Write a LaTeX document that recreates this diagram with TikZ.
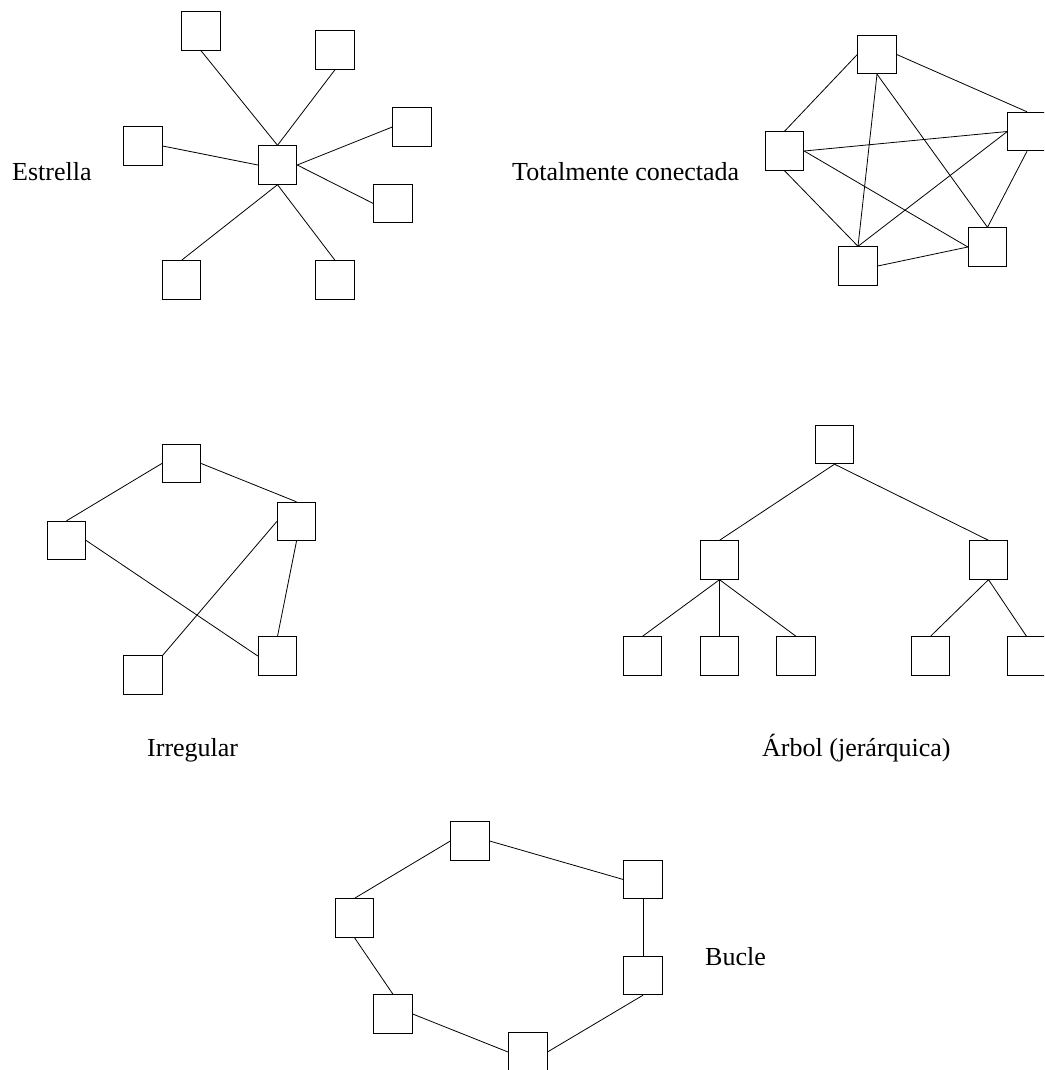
\documentclass[tikz,border=0pt]{standalone}
\usepackage{fontspec}
\setmainfont{Liberation Serif}
\begin{document}
\begin{tikzpicture}[x=1pt,y=-1pt,
  station/.style={draw, line width=0.9pt, minimum size=38.5pt, inner sep=0pt, fill=white},
  link/.style={line width=0.8pt},
  caption/.style={anchor=base west, inner sep=0pt, font=\fontsize{26}{30}\selectfont}]
\useasboundingbox (0,0) rectangle (1044,1070);
\clip (0,0) rectangle (1044,1070);

% Star topology
\node[station] (s0) at (277.5,165) {};
\node[station] (s1) at (201,31) {};
\node[station] (s2) at (335,50) {};
\node[station] (s3) at (412,127) {};
\node[station] (s4) at (143,146) {};
\node[station] (s5) at (393,203.5) {};
\node[station] (s6) at (181.5,280) {};
\node[station] (s7) at (335,280) {};
\draw[link] (s1.south) -- (s0.north);
\draw[link] (s2.south) -- (s0.north);
\draw[link] (s3.west) -- (s0.east);
\draw[link] (s4.east) -- (s0.west);
\draw[link] (s5.west) -- (s0.east);
\draw[link] (s6.north) -- (s0.south);
\draw[link] (s7.north) -- (s0.south);
\node[caption] (lstar) at (12,180) {Estrella};

% Fully connected topology
\node[station] (f1) at (877,54.5) {};
\node[station] (f2) at (1027,131.5) {};
\node[station] (f3) at (784.5,151) {};
\node[station] (f4) at (858,266) {};
\node[station] (f5) at (987.5,247) {};
\draw[link] (f3.north) -- (f1.west);
\draw[link] (f1.east) -- (f2.north);
\draw[link] (f1.south) -- (f4.north);
\draw[link] (f1.south) -- (f5.north);
\draw[link] (f3.east) -- (f2.west);
\draw[link] (f3.east) -- (f5.west);
\draw[link] (f3.south) -- (f4.north);
\draw[link] (f2.west) -- (f4.north);
\draw[link] (f2.south) -- (f5.north);
\draw[link] (f4.east) -- (f5.west);
\node[caption] (lfull) at (512,180) {Totalmente conectada};

% Irregular topology
\node[station] (i1) at (181.5,463.5) {};
\node[station] (i2) at (66.5,540.5) {};
\node[station] (i3) at (296.5,521.5) {};
\node[station] (i4) at (277.5,656) {};
\node[station] (i5) at (143,675) {};
\draw[link] (i1.west) -- (i2.north);
\draw[link] (i1.east) -- (i3.north);
\draw[link] (i2.east) -- (i4.west);
\draw[link] (i3.west) -- (i5.north east);
\draw[link] (i3.south) -- (i4.north);
\node[caption] (lirr) at (147,756) {Irregular};

% Tree (hierarchical) topology
\node[station] (t0) at (834.5,444.5) {};
\node[station] (t1) at (719.5,560) {};
\node[station] (t2) at (988.5,560) {};
\node[station] (t3) at (642.5,656) {};
\node[station] (t4) at (719.5,656) {};
\node[station] (t5) at (796,656) {};
\node[station] (t6) at (930.5,656) {};
\node[station] (t7) at (1026.5,656) {};
\draw[link] (t0.south) -- (t1.north);
\draw[link] (t0.south) -- (t2.north);
\draw[link] (t1.south) -- (t3.north);
\draw[link] (t1.south) -- (t4.north);
\draw[link] (t1.south) -- (t5.north);
\draw[link] (t2.south) -- (t6.north);
\draw[link] (t2.south) -- (t7.north);
\node[caption] (ltree) at (762,756) {Árbol (jerárquica)};

% Ring topology
\node[station] (r1) at (470,841) {};
\node[station] (r2) at (643,879.5) {};
\node[station] (r3) at (643,975.5) {};
\node[station] (r4) at (527.7,1052) {};
\node[station] (r5) at (393,1014) {};
\node[station] (r6) at (354.5,918) {};
\draw[link] (r1.east) -- (r2.west);
\draw[link] (r2.south) -- (r3.north);
\draw[link] (r3.south) -- (r4.east);
\draw[link] (r4.west) -- (r5.east);
\draw[link] (r5.north) -- (r6.south);
\draw[link] (r6.north) -- (r1.west);
\node[caption] (lring) at (705,965) {Bucle};
\end{tikzpicture}
\end{document}
